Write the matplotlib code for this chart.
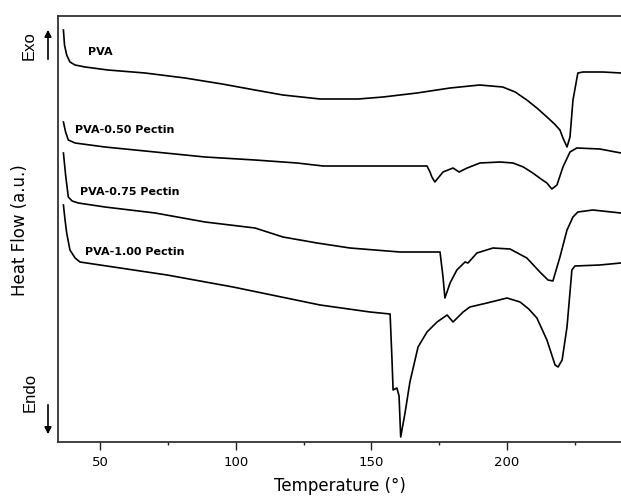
import matplotlib
matplotlib.use("Agg")
import matplotlib.pyplot as plt
from matplotlib.ticker import MultipleLocator

# Temperature (°) and heat flow (a.u.)
t_pva = [36.5, 36.9, 37.7, 38.9, 40.8, 44.5, 52.9, 66.6, 81.3, 95.0, 107.1, 117.4, 131.1, 145.1,
         154.3, 166.8, 179.0, 189.9, 198.4, 203.0, 207.3, 211.0, 214.7, 217.5, 219.5, 220.6,
         222.1, 223.2, 224.3, 226.1, 228.0, 235.3, 242.0]
h_pva = [412, 397, 387, 380, 377, 375, 372, 369, 364, 358, 352, 347, 343, 343,
         345, 349, 354, 357, 355, 350, 342, 334, 325, 318, 312, 304,
         295, 305, 342, 369, 370, 370, 369]

t_050 = [36.5, 37.3, 38.3, 40.8, 51.8, 70.3, 88.7, 107.1, 122.6, 132.2, 170.5, 171.6, 172.3,
         173.4, 176.4, 180.1, 182.3, 185.3, 190.0, 197.4, 202.2, 206.0, 209.5, 212.5, 214.7,
         216.5, 218.4, 220.6, 223.2, 225.7, 234.2, 242.0]
h_050 = [320, 310, 302, 299, 295, 290, 285, 282, 279, 276, 276, 270, 265,
         260, 270, 274, 270, 274, 279, 280, 279, 275, 269, 263, 259,
         253, 257, 275, 290, 294, 293, 289]

t_075 = [36.5, 37.3, 38.3, 39.7, 42.0, 51.8, 70.3, 88.7, 107.1, 117.4, 130.0, 142.1, 160.5,
         175.3, 176.4, 177.1, 179.0, 181.5, 184.5, 185.6, 188.9, 194.8, 201.1, 207.3, 212.1,
         215.1, 216.9, 219.5, 222.1, 224.3, 226.1, 231.6, 241.9]
h_075 = [289, 267, 245, 241, 239, 235, 229, 220, 214, 205, 199, 194, 190,
         190, 165, 144, 159, 172, 180, 179, 189, 194, 193, 184, 170,
         162, 161, 185, 212, 225, 230, 232, 229]

t_100 = [36.5, 37.1, 37.7, 38.9, 40.8, 42.6, 50.0, 74.7, 99.0, 131.1, 149.5, 156.9, 157.6,
         158.0, 159.4, 160.2, 160.8, 162.4, 164.2, 167.2, 170.5, 174.2, 177.9, 180.1, 183.8,
         186.3, 192.6, 200.0, 204.8, 208.0, 211.0, 214.7, 217.7, 218.8, 220.3, 222.1, 223.9,
         225.0, 234.2, 241.9]
h_100 = [237, 222, 209, 192, 184, 180, 177, 167, 155, 137, 130, 128, 82,
         52, 54, 46, 5, 29, 60, 95, 110, 120, 127, 120, 130,
         135, 139, 144, 140, 133, 124, 102, 77, 75, 82, 115, 172,
         176, 177, 179]

series = [(t_pva, h_pva), (t_050, h_050), (t_075, h_075), (t_100, h_100)]
labels = ["PVA", "PVA-0.50 Pectin", "PVA-0.75 Pectin", "PVA-1.00 Pectin"]
label_x = [45.6, 40.8, 42.6, 44.5]
label_y = [390, 312, 250, 190]
xticks = [50, 100, 150, 200]

fig = plt.figure(figsize=(6.21, 5.03), dpi=100)
ax = fig.add_axes([58 / 621, 1 - 442 / 503, 1 - 58 / 621, (442 - 16) / 503])

for (t, h) in series:
    ax.plot(t, h, color="black", lw=1.2)

for lab, lx, ly in zip(labels, label_x, label_y):
    ax.text(lx, ly, lab, fontsize=8, fontweight="bold", ha="left", va="center",
            color="black", family="DejaVu Sans")

ax.set_xlim(34.5, 242)
ax.set_ylim(0, 426)
ax.set_xticks(xticks)
ax.xaxis.set_minor_locator(MultipleLocator(25))
ax.set_yticks([])
ax.tick_params(axis="x", which="major", direction="out", length=6, width=1, pad=4,
               labelsize=9.5, color="#222222")
ax.tick_params(axis="x", which="minor", direction="out", length=2.5, width=1, color="#222222")
ax.spines["right"].set_visible(False)
for s in ["left", "top", "bottom"]:
    ax.spines[s].set_linewidth(1.3)
    ax.spines[s].set_color("#333333")

ax.set_xlabel("Temperature (°)", fontsize=12, family="DejaVu Sans", labelpad=6)

fig.text(20 / 621, 1 - 230 / 503, "Heat Flow (a.u.)", rotation=90, fontsize=12,
         family="DejaVu Sans", ha="center", va="center")
fig.text(29 / 621, 1 - 46 / 503, "Exo", rotation=90, fontsize=12,
         family="Liberation Sans", ha="center", va="center")
fig.text(30 / 621, 1 - 392 / 503, "Endo", rotation=90, fontsize=12,
         family="Liberation Sans", ha="center", va="center")

fig.add_artist(matplotlib.patches.FancyArrowPatch(
    (48 / 621, 1 - 62 / 503), (48 / 621, 1 - 27 / 503), transform=fig.transFigure,
    arrowstyle="-|>,head_length=4,head_width=2", lw=1.2, color="black"))
fig.add_artist(matplotlib.patches.FancyArrowPatch(
    (48 / 621, 1 - 402 / 503), (48 / 621, 1 - 437 / 503), transform=fig.transFigure,
    arrowstyle="-|>,head_length=4,head_width=2", lw=1.2, color="black"))

fig.savefig("out.png", dpi=100)
